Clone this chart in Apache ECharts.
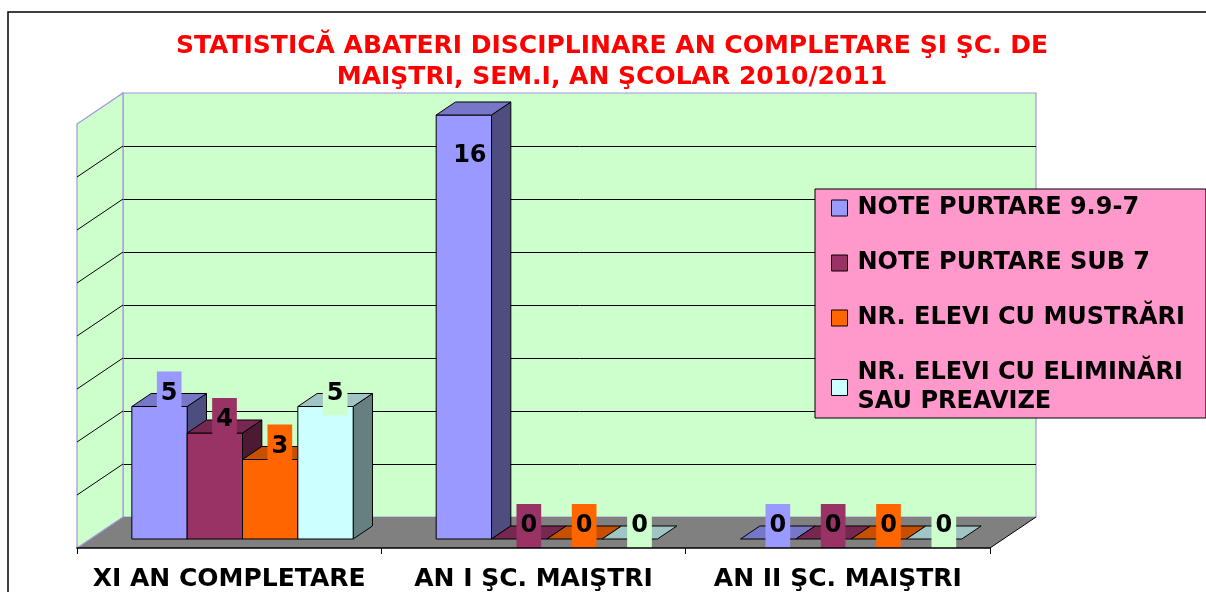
<!DOCTYPE html>
<html>
<head>
<meta charset="utf-8">
<script src="https://cdn.jsdelivr.net/npm/echarts@6/dist/echarts.min.js"></script>
<style>
html,body{margin:0;padding:0;background:#fff;}
#chart{width:1206px;height:592px;}
</style>
</head>
<body>
<div id="chart"></div>
<script>
// ---------- data ----------
const categories = ['XI AN COMPLETARE', 'AN I ŞC. MAIŞTRI', 'AN II ŞC. MAIŞTRI'];
const seriesNames = ['NOTE PURTARE 9.9-7', 'NOTE PURTARE SUB 7', 'NR. ELEVI CU MUSTRĂRI', 'NR. ELEVI CU ELIMINĂRI SAU PREAVIZE'];
const notePurtare997 = [5, 16, 0];
const notePurtareSub7 = [4, 0, 0];
const elevMustrari = [3, 0, 0];
const elevEliminari = [5, 0, 0];
const valueMin = 0;
const valueMax = 16;
const valueInterval = 2;
const titleLines = ['STATISTICĂ ABATERI DISCIPLINARE AN COMPLETARE ŞI ŞC. DE', 'MAIŞTRI, SEM.I, AN ŞCOLAR 2010/2011'];

// ---------- styles / layout ----------
const FONT = '"DejaVu Sans", sans-serif';
const faceColors = ['#9999FF', '#993366', '#FF6600', '#CCFFFF'];
const topColors  = ['#7777C7', '#772850', '#C75000', '#9FC5C5'];
const sideColors = ['#4D4D80', '#4D1A33', '#803300', '#668080'];
const labelBg    = ['#9999FF', '#993366', '#FF6600', '#CCFFCC'];
const WALL = '#CCFFCC';
const WALL_EDGE = '#A693DD';
const FLOOR = '#808080';
const FRONT = { left: 77, top: 124, width: 913, height: 424 };
const DEPTH = { dx: 46, dy: -31 };
const BAR_FRONT = 0.29;   // fraction of depth where bar front face sits
const BAR_DEPTH = 0.42;   // fraction of depth occupied by a bar
const GROUP_SLOTS = 5.5;  // 4 bars + 150% gap
const LABEL_PAD = [9, 4, 9, 4];
const LABEL_LH = 26;

const seriesData = [notePurtare997, notePurtareSub7, elevMustrari, elevEliminari];

function renderScene(params, api) {
  const cs = params.coordSys;
  const dx = DEPTH.dx, dy = DEPTH.dy;
  const xL = cs.x, xR = cs.x + cs.width, yB = cs.y + cs.height, yT = cs.y;
  const children = [
    { type: 'polygon', shape: { points: [[xL, yB], [xR, yB], [xR + dx, yB + dy], [xL + dx, yB + dy]] },
      style: { fill: FLOOR } },
    { type: 'line', shape: { x1: xR, y1: yB, x2: xR + dx, y2: yB + dy },
      style: { stroke: '#000', lineWidth: 1 } },
    { type: 'polygon', shape: { points: [[xL, yB], [xL + dx, yB + dy], [xL + dx, yT + dy], [xL, yT]] },
      style: { fill: WALL, stroke: WALL_EDGE, lineWidth: 1.2 } }
  ];
  for (let v = valueMin + valueInterval; v < valueMax; v += valueInterval) {
    const y = api.coord([0, v])[1];
    children.push({ type: 'line', shape: { x1: xL, y1: y, x2: xL + dx, y2: y + dy },
      style: { stroke: '#000', lineWidth: 1 } });
  }
  return { type: 'group', children };
}

function makeBarRenderer(sIdx) {
  return function (params, api) {
    const cat = api.value(0);
    const val = api.value(1);
    const cs = params.coordSys;
    const band = api.size([1, 0])[0];
    const bw = band / GROUP_SLOTS;
    const p0 = api.coord([cat, 0]);
    const p1 = api.coord([cat, val]);
    const ox = DEPTH.dx * BAR_FRONT, oy = DEPTH.dy * BAR_FRONT;
    const bx = DEPTH.dx * BAR_DEPTH, by = DEPTH.dy * BAR_DEPTH;
    const x0 = p0[0] - 2 * bw + sIdx * bw + ox;
    const x1 = x0 + bw;
    const yb = p0[1] + oy;
    const yt = p1[1] + oy;
    const edge = { stroke: '#000', lineWidth: 1, lineJoin: 'round' };
    const children = [];
    if (val > 0) {
      children.push({ type: 'polygon', shape: { points: [[x1, yt], [x1 + bx, yt + by], [x1 + bx, yb + by], [x1, yb]] },
        style: Object.assign({ fill: sideColors[sIdx] }, edge) });
      children.push({ type: 'rect', shape: { x: x0, y: yt, width: bw, height: yb - yt },
        style: Object.assign({ fill: faceColors[sIdx] }, edge) });
    }
    children.push({ type: 'polygon', shape: { points: [[x0, yt], [x1, yt], [x1 + bx, yt + by], [x0 + bx, yt + by]] },
      style: Object.assign({ fill: topColors[sIdx] }, edge) });
    // data label
    const wallTop = cs.y + DEPTH.dy;
    const halfH = (LABEL_LH + LABEL_PAD[0] + LABEL_PAD[2]) / 2;
    let lx = (x0 + x1) / 2 + bx / 2;
    let ly = yt + by;
    if (ly - halfH < wallTop) { // no room above: move inside the bar
      lx = (x0 + x1) / 2 + 6;
      ly = yt + 41;
    }
    children.push({ type: 'text', z2: 100,
      style: { text: String(val), x: lx, y: ly, align: 'center', verticalAlign: 'middle',
        font: 'bold 24px ' + FONT, fill: '#000', lineHeight: LABEL_LH,
        backgroundColor: labelBg[sIdx], padding: LABEL_PAD } });
    return { type: 'group', children };
  };
}

const chart = echarts.init(document.getElementById('chart'), null, { renderer: 'canvas' });

const barSeries = seriesNames.map((name, i) => ({
  name: name,
  type: 'custom',
  xAxisIndex: 1,
  yAxisIndex: 1,
  z: 2,
  itemStyle: { color: faceColors[i] },
  renderItem: makeBarRenderer(i),
  encode: { x: 0, y: 1 },
  data: categories.map((c, ci) => [ci, seriesData[i][ci]])
}));

const option = {
  animation: false,
  backgroundColor: '#FFFFFF',
  title: {
    text: titleLines.join('\n'),
    left: 612, top: 31, textAlign: 'center', padding: 0,
    textStyle: { fontFamily: FONT, fontWeight: 'bold', fontSize: 25, color: '#FF0000', lineHeight: 31 }
  },
  legend: {
    data: seriesNames,
    orient: 'vertical',
    left: 815, top: 189,
    padding: [4.5, 21, 1.5, 16],
    itemWidth: 26, itemHeight: 16, itemGap: 26,
    icon: 'path://M0,0H16V16H0Z',
    symbolKeepAspect: true,
    selectedMode: false,
    backgroundColor: '#FF99CC', borderColor: '#000', borderWidth: 1,
    itemStyle: { borderColor: '#000', borderWidth: 1 },
    textStyle: { fontFamily: FONT, fontWeight: 'bold', fontSize: 24, color: '#000', lineHeight: 29 },
    formatter: n => n.replace(' SAU ', '\nSAU ')
  },
  graphic: [{
    type: 'rect', silent: true, z: -10,
    shape: { x: 8, y: 12, width: 1260, height: 640 },
    style: { fill: 'none', stroke: '#000', lineWidth: 1.5 }
  }],
  grid: [
    { // back wall
      left: FRONT.left + DEPTH.dx, top: FRONT.top + DEPTH.dy, width: FRONT.width, height: FRONT.height,
      show: true, backgroundColor: WALL, borderColor: WALL_EDGE, borderWidth: 1.2,
      outerBoundsMode: 'none', containLabel: false
    },
    { // front plane
      left: FRONT.left, top: FRONT.top, width: FRONT.width, height: FRONT.height,
      outerBoundsMode: 'none', containLabel: false
    }
  ],
  xAxis: [
    { gridIndex: 0, type: 'category', data: categories, show: false },
    { gridIndex: 1, type: 'category', data: categories, z: 5,
      axisLine: { show: true, lineStyle: { color: '#000', width: 1.5 } },
      axisTick: { show: true, interval: 0, length: 6, lineStyle: { color: '#000', width: 1 } },
      axisLabel: { show: true, interval: 0, margin: 16, color: '#000', fontFamily: FONT, fontWeight: 'bold', fontSize: 25, lineHeight: 30 },
      splitLine: { show: false } }
  ],
  yAxis: [
    { gridIndex: 0, type: 'value', min: valueMin, max: valueMax, interval: valueInterval,
      axisLine: { show: false }, axisTick: { show: false }, axisLabel: { show: false },
      splitLine: { show: true, showMinLine: false, showMaxLine: false, lineStyle: { color: '#000', width: 1 } } },
    { gridIndex: 1, type: 'value', min: valueMin, max: valueMax, interval: valueInterval, show: false,
      splitLine: { show: false } }
  ],
  series: [
    { type: 'custom', xAxisIndex: 1, yAxisIndex: 1, z: 1, silent: true,
      renderItem: renderScene, data: [[0, 0]] }
  ].concat(barSeries)
};

chart.setOption(option);
</script>
</body>
</html>
